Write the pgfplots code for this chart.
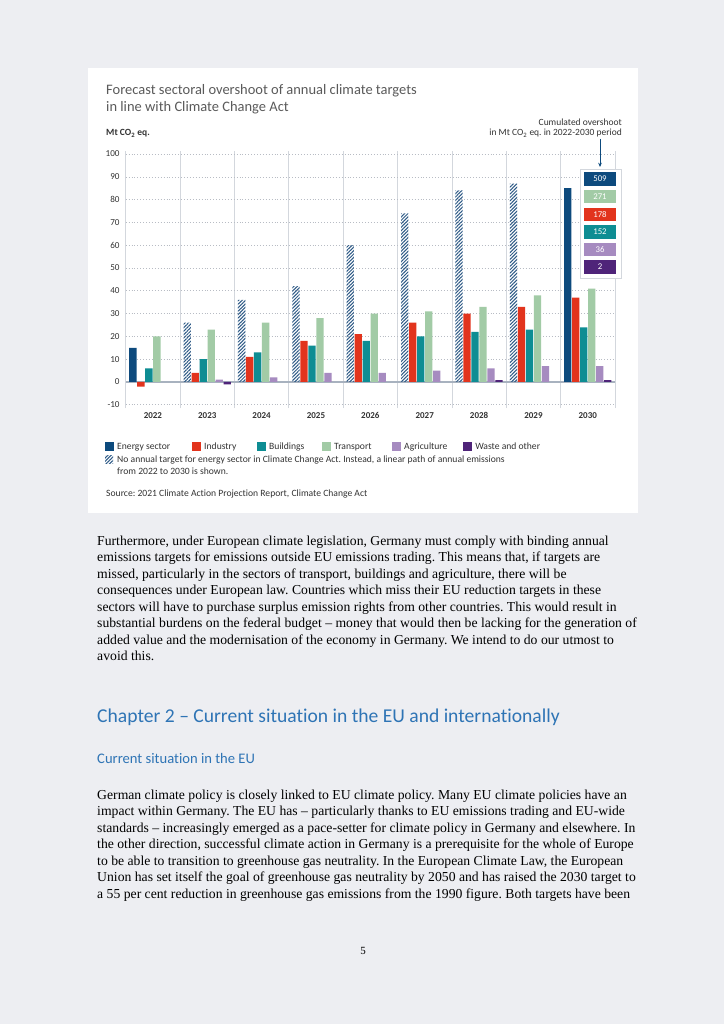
\documentclass[border=0pt]{standalone}
\usepackage{fontspec}
\setmainfont{Liberation Serif}
\newfontfamily\cf[Ligatures=NoCommon]{Carlito}
\usepackage{pgfplots}
\pgfplotsset{compat=1.18}
\usepackage{pgfplotstable}
\usetikzlibrary{patterns.meta,arrows.meta}
\frenchspacing

\definecolor{pagebg}{HTML}{EDEEF2}
\definecolor{energy}{HTML}{0D4A7D}
\definecolor{industry}{HTML}{E2341D}
\definecolor{buildings}{HTML}{0E8D93}
\definecolor{transport}{HTML}{A2CBA6}
\definecolor{agri}{HTML}{A68BC0}
\definecolor{waste}{HTML}{4F2479}
\definecolor{hatch}{HTML}{2E5A86}
\definecolor{titlegray}{HTML}{5A5A5A}
\definecolor{tickgray}{HTML}{333333}
\definecolor{gridgray}{HTML}{B8BCC4}
\definecolor{vgray}{HTML}{D3D7DD}
\definecolor{zerocol}{HTML}{A8B2BF}
\definecolor{headblue}{HTML}{2E74B5}

% overshoot per sector, Mt CO2 eq.; x = 0 (2022) ... 8 (2030)
\pgfplotstableread{
x en  ha  ind  bld  tr  ag  wa
0 15  nan -2   6    20  nan nan
1 nan 26  4    10   23  1   -1
2 nan 36  11   13   26  2   nan
3 nan 42  18   16   28  4   nan
4 nan 60  21   18   30  4   nan
5 nan 74  26   20   31  5   nan
6 nan 84  30   22   33  6   0.8
7 nan 87  33   23   38  7   nan
8 85  nan 37   24   41  7   0.8
}\sectors

\pgfplotsset{sbar/.style={ybar, bar width=6pt, draw=none}}

\begin{document}
\begin{tikzpicture}
\begin{scope}[x=0.8222pt,y=-0.8222pt]
  \fill[pagebg] (0,0) rectangle (724,1024);
  \fill[white] (88,68) rectangle (638,513);
  % chart title
  \node[anchor=base west, inner sep=0, font=\cf\fontsize{11.9}{13}\selectfont, text=titlegray]
    at (106,95) {Forecast sectoral overshoot of annual climate targets};
  \node[anchor=base west, inner sep=0, font=\cf\fontsize{11.9}{13}\selectfont, text=titlegray]
    at (106,112) {in line with Climate Change Act};
  \node[anchor=base west, inner sep=0, font=\cf\bfseries\fontsize{7.8}{8}\selectfont, text=tickgray]
    at (106,136) {Mt CO\textsubscript{2} eq.};
  \node[anchor=base east, inner sep=0, font=\cf\fontsize{7.8}{8}\selectfont, text=tickgray]
    at (622,126) {Cumulated overshoot};
  \node[anchor=base east, inner sep=0, font=\cf\fontsize{7.8}{8}\selectfont, text=tickgray]
    at (622,136) {in Mt CO\textsubscript{2} eq. in 2022-2030 period};
\end{scope}

\begin{axis}[
  at={(103.35pt,-335.62pt)}, anchor=south west,
  scale only axis, width=402.3pt, height=211.8pt,
  xmin=-0.5, xmax=8.5, ymin=-11.5, ymax=101.5,
  axis line style={draw=none},
  major tick length=0pt, minor tick length=0pt,
  xtick={0,...,8},
  xticklabels={2022,2023,2024,2025,2026,2027,2028,2029,2030},
  minor xtick={-0.5,0.5,...,8.5},
  xminorgrids=true,
  minor x grid style={solid, color=vgray, line width=0.6pt},
  ytick={-10,0,...,100},
  ymajorgrids=true,
  major y grid style={dotted, color=gridgray, line width=0.5pt},
  extra y ticks={0}, extra y tick labels={},
  extra y tick style={ymajorgrids=true, major y grid style={solid, color=zerocol, line width=0.9pt}},
  /pgf/number format/assume math mode=true,
  yticklabel style={font=\cf\fontsize{7.5}{8}\selectfont, text=tickgray, xshift=-1.5pt},
  xticklabel style={font=\cf\bfseries\fontsize{7.4}{8}\selectfont, text=tickgray},
]
\addplot[sbar, fill=energy, bar shift=-16.45pt] table[x=x,y=en]{\sectors};
\addplot[sbar, pattern={Lines[angle=45,distance=2pt,line width=0.85pt]}, pattern color=hatch, bar shift=-16.45pt] table[x=x,y=ha]{\sectors};
\addplot[sbar, fill=industry, bar shift=-9.87pt] table[x=x,y=ind]{\sectors};
\addplot[sbar, fill=buildings, bar shift=-3.29pt] table[x=x,y=bld]{\sectors};
\addplot[sbar, fill=transport, bar shift=3.29pt] table[x=x,y=tr]{\sectors};
\addplot[sbar, fill=agri, bar shift=9.87pt] table[x=x,y=ag]{\sectors};
\addplot[sbar, fill=waste, bar shift=16.45pt] table[x=x,y=wa]{\sectors};
\end{axis}

\begin{scope}[x=0.8222pt,y=-0.8222pt]
  % cumulated overshoot box
  \draw[energy, line width=0.6pt, -{Stealth[length=3.5pt,width=3pt]}] (600,139) -- (600,167);
  \draw[vgray, line width=0.6pt, fill=white] (580,169) rectangle (621,278);
  \foreach \t/\c/\v in {172.3/energy/509, 190/transport/271, 207.7/industry/178,
                          225.3/buildings/152, 243/agri/36, 260.3/waste/2} {
    \fill[\c] (584,\t) rectangle (616,\t+13.3);
    \node[font=\cf\fontsize{7.2}{8}\selectfont, text=white, inner sep=0] at (600,\t+6.65) {\v};
  }
  % legend
  \foreach \x/\c/\l in {105/energy/Energy sector, 192/industry/Industry, 257/buildings/Buildings,
                         322/transport/Transport, 392/agri/Agriculture, 463/waste/Waste and other} {
    \fill[\c] (\x,442) rectangle (\x+8.5,450.5);
    \node[anchor=base west, inner sep=0, font=\cf\fontsize{7.9}{8}\selectfont, text=tickgray] at (\x+12,449.5) {\l};
  }
  \fill[pattern={Lines[angle=45,distance=2pt,line width=0.85pt]}, pattern color=hatch] (105,455) rectangle (113,463);
  \node[anchor=base west, inner sep=0, font=\cf\fontsize{7.9}{8}\selectfont, text=tickgray] at (117,462.5)
    {No annual target for energy sector in Climate Change Act. Instead, a linear path of annual emissions};
  \node[anchor=base west, inner sep=0, font=\cf\fontsize{7.9}{8}\selectfont, text=tickgray] at (117,474)
    {from 2022 to 2030 is shown.};
  \node[anchor=base west, inner sep=0, font=\cf\fontsize{7.9}{8}\selectfont, text=tickgray] at (106,496.5)
    {Source: 2021 Climate Action Projection Report, Climate Change Act};

  % body text
  \begin{scope}[every node/.style={anchor=base west, inner sep=0, font=\fontsize{11.25}{13}\selectfont, text=black}]
  \node at (97,545) {Furthermore, under European climate legislation, Germany must comply with binding annual};
  \node at (97,561.5) {emissions targets for emissions outside EU emissions trading. This means that, if targets are};
  \node at (97,578) {missed, particularly in the sectors of transport, buildings and agriculture, there will be};
  \node at (97,594.5) {consequences under European law. Countries which miss their EU reduction targets in these};
  \node at (97,611) {sectors will have to purchase surplus emission rights from other countries. This would result in};
  \node at (97,627.5) {substantial burdens on the federal budget – money that would then be lacking for the generation of};
  \node at (97,644) {added value and the modernisation of the economy in Germany. We intend to do our utmost to};
  \node at (97,660.5) {avoid this.};
  \node at (97,799) {German climate policy is closely linked to EU climate policy. Many EU climate policies have an};
  \node at (97,815.5) {impact within Germany. The EU has – particularly thanks to EU emissions trading and EU-wide};
  \node at (97,832) {standards – increasingly emerged as a pace-setter for climate policy in Germany and elsewhere. In};
  \node at (97,848.5) {the other direction, successful climate action in Germany is a prerequisite for the whole of Europe};
  \node at (97,865) {to be able to transition to greenhouse gas neutrality. In the European Climate Law, the European};
  \node at (97,881.5) {Union has set itself the goal of greenhouse gas neutrality by 2050 and has raised the 2030 target to};
  \node at (97,898) {a 55 per cent reduction in greenhouse gas emissions from the 1990 figure. Both targets have been};
  \end{scope}
  \node[anchor=base west, inner sep=0, font=\cf\fontsize{16.1}{19}\selectfont, text=headblue] at (97,722)
    {Chapter 2 – Current situation in the EU and internationally};
  \node[anchor=base west, inner sep=0, font=\cf\fontsize{12}{14}\selectfont, text=headblue] at (97,763.5)
    {Current situation in the EU};
  \node[anchor=base, inner sep=0, font=\fontsize{9}{10}\selectfont] at (363,954) {5};
\end{scope}
\end{tikzpicture}
\end{document}
